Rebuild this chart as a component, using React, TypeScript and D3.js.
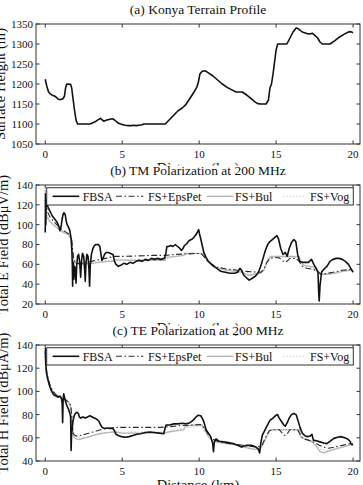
import React from "react";
import * as d3 from "d3";

// ---- data -------------------------------------------------------------
type Pt = [number, number];

// (a) terrain elevation along the path, [km, m]
const terrainProfile: Pt[] = [
  [0, 1212], [0.1, 1195], [0.2, 1182], [0.3, 1176], [0.45, 1172], [0.6, 1170], [0.75, 1166],
  [0.85, 1162], [1.0, 1161], [1.15, 1163], [1.25, 1170], [1.32, 1190], [1.4, 1200], [1.65, 1199],
  [1.72, 1190], [1.8, 1165], [1.9, 1135], [2.0, 1110], [2.1, 1100], [2.5, 1100], [2.9, 1100],
  [3.1, 1103], [3.3, 1107], [3.5, 1112], [3.6, 1114], [3.7, 1110], [3.8, 1107], [4.0, 1110],
  [4.2, 1112], [4.4, 1113], [4.5, 1110], [4.65, 1105], [4.8, 1101], [5.0, 1099], [5.2, 1097],
  [5.4, 1096], [5.6, 1096], [5.75, 1097], [5.9, 1096], [6.1, 1097], [6.3, 1098], [6.4, 1100],
  [7.0, 1100], [7.8, 1100], [8.0, 1108], [8.3, 1120], [8.6, 1132], [8.9, 1140], [9.1, 1147],
  [9.3, 1158], [9.5, 1170], [9.7, 1182], [9.85, 1192], [9.95, 1205], [10.05, 1225], [10.2, 1232],
  [10.4, 1233], [10.6, 1228], [10.9, 1220], [11.2, 1210], [11.5, 1200], [11.8, 1192], [12.1, 1186],
  [12.4, 1180], [12.8, 1180], [13.0, 1175], [13.3, 1166], [13.6, 1156], [13.8, 1151], [14.0, 1150],
  [14.35, 1150], [14.5, 1160], [14.6, 1190], [14.7, 1200], [14.8, 1225], [14.9, 1255], [15.0, 1285],
  [15.1, 1300], [15.7, 1300], [15.9, 1315], [16.1, 1330], [16.3, 1340], [16.45, 1338], [16.7, 1330],
  [17.0, 1326], [17.2, 1325], [17.35, 1327], [17.5, 1322], [17.7, 1315], [17.85, 1305], [18.0, 1300],
  [18.5, 1300], [18.8, 1308], [19.1, 1317], [19.4, 1324], [19.7, 1330], [19.85, 1331], [20.0, 1328],
];

// (b) TM polarization, total E field [km, dBuV/m]
const tmFbsa: Pt[] = [
  [0, 92], [0.02, 131], [0.04, 100], [0.06, 126], [0.1, 121], [0.2, 117], [0.33, 113], [0.45, 109],
  [0.6, 106], [0.75, 103], [0.87, 99], [0.95, 94], [1.0, 96], [1.05, 100], [1.1, 106], [1.17, 111],
  [1.22, 112], [1.3, 110], [1.36, 104], [1.42, 100], [1.5, 98], [1.6, 94], [1.68, 86], [1.73, 74],
  [1.76, 60], [1.78, 38], [1.8, 58], [1.83, 62], [1.86, 45], [1.9, 58], [1.95, 56], [2.0, 41],
  [2.05, 60], [2.1, 68], [2.17, 70], [2.24, 62], [2.3, 47], [2.36, 64], [2.42, 71], [2.5, 68],
  [2.57, 52], [2.6, 43], [2.65, 62], [2.71, 70], [2.78, 68], [2.84, 55], [2.88, 38], [2.93, 60],
  [3.0, 70], [3.1, 76], [3.2, 79], [3.3, 80], [3.45, 80], [3.55, 78], [3.62, 70],
  [3.68, 64], [3.75, 66], [3.85, 70], [3.95, 72], [4.1, 72], [4.25, 71], [4.4, 70], [4.5, 63],
  [4.6, 60], [4.75, 58], [4.9, 59], [5.1, 61], [5.3, 60], [5.5, 62], [5.7, 61], [5.9, 63],
  [6.1, 64], [6.3, 63], [6.5, 65], [6.7, 64], [6.9, 66], [7.1, 65], [7.3, 66], [7.5, 65],
  [7.75, 66], [7.85, 72], [7.9, 78], [8.0, 78], [8.15, 79], [8.3, 78], [8.45, 80], [8.6, 78],
  [8.75, 76], [8.85, 74], [8.95, 76], [9.05, 79], [9.2, 81], [9.35, 84], [9.5, 85], [9.65, 87],
  [9.8, 90], [9.9, 93], [9.97, 95], [10.03, 90], [10.1, 86], [10.2, 79], [10.3, 72], [10.45, 67],
  [10.6, 63], [10.75, 61], [10.95, 58], [11.15, 56], [11.4, 53], [11.7, 52], [12.0, 51], [12.3, 51],
  [12.5, 52], [12.65, 56], [12.75, 54], [12.9, 49], [13.1, 46], [13.25, 44], [13.45, 46], [13.65, 48],
  [13.85, 52], [14.0, 58], [14.15, 66], [14.3, 74], [14.45, 80], [14.6, 83], [14.75, 85], [14.9, 87],
  [15.05, 89], [15.15, 86], [15.3, 76], [15.45, 70], [15.6, 72], [15.72, 68], [15.85, 76], [16.0, 82],
  [16.15, 85], [16.28, 83], [16.4, 70], [16.52, 63], [16.7, 62], [16.9, 62], [17.1, 62], [17.3, 65],
  [17.45, 60], [17.6, 56], [17.72, 52], [17.77, 30], [17.8, 23], [17.85, 38], [17.95, 52], [18.1, 55],
  [18.3, 58], [18.5, 63], [18.7, 65], [18.9, 66], [19.1, 66], [19.3, 65], [19.5, 63], [19.7, 60],
  [19.85, 56], [20.0, 52],
];
const tmEpsPet: Pt[] = [
  [0, 125], [0.05, 120], [0.15, 113], [0.3, 108], [0.5, 104], [0.75, 100], [1.0, 96], [1.3, 93],
  [1.6, 90], [1.72, 85], [1.78, 75], [1.85, 66], [1.95, 62], [2.1, 61], [2.4, 61], [2.7, 62],
  [3.0, 63], [3.3, 64], [3.6, 65], [3.9, 66], [4.2, 67], [4.5, 68], [5.0, 68], [6.0, 68.5],
  [7.0, 69], [7.8, 69], [8.5, 70], [9.2, 70.5], [9.8, 71], [10.1, 71], [10.3, 68], [10.5, 64],
  [10.8, 60], [11.2, 57], [11.7, 55.5], [12.3, 54.5], [12.9, 53], [13.5, 52.5], [14.0, 52], [14.2, 55],
  [14.4, 62], [14.6, 66], [14.9, 67], [15.2, 66.5], [15.4, 64], [15.55, 62], [15.7, 63], [15.9, 66],
  [16.3, 66], [16.5, 63], [16.7, 58], [17.0, 56], [17.4, 55], [17.7, 53], [17.9, 50], [18.2, 50.5],
  [18.7, 52], [19.3, 54], [20.0, 55],
];
const tmBul: Pt[] = [
  [0, 135], [0.03, 112], [0.1, 108], [0.3, 103], [0.6, 99], [0.9, 95], [1.2, 92], [1.5, 90],
  [1.7, 85], [1.77, 72], [1.85, 64], [2.0, 61], [2.2, 60], [2.6, 60.5], [3.0, 61], [3.5, 62],
  [4.0, 63], [4.5, 63], [4.55, 64.5], [5.5, 64], [6.5, 64], [7.5, 64], [7.8, 64], [7.85, 67],
  [8.5, 68], [9.0, 69], [9.05, 71], [9.6, 71], [10.2, 71], [10.4, 67], [10.6, 62], [10.9, 58],
  [11.3, 56], [11.8, 54], [12.4, 53], [12.8, 52], [13.0, 50], [13.3, 49], [13.6, 50], [14.0, 51],
  [14.2, 54], [14.35, 60], [14.5, 66], [14.7, 68], [15.5, 68], [16.0, 68], [16.5, 68], [16.6, 62],
  [16.8, 59], [17.2, 58], [17.5, 57.5], [17.6, 54], [17.9, 50], [18.3, 50], [18.8, 51], [19.3, 53],
  [19.8, 54], [20.0, 54],
];
const tmVog: Pt[] = [
  [0, 120], [0.1, 110], [0.3, 104], [0.6, 100], [1.0, 95], [1.4, 91], [1.7, 86], [1.78, 72],
  [1.88, 63], [2.1, 61], [2.6, 61], [3.2, 62], [3.8, 63.5], [4.5, 64], [5.5, 65], [6.5, 65],
  [7.8, 65.5], [8.5, 68], [9.2, 70], [10.1, 71], [10.4, 67], [10.7, 61], [11.2, 57], [12.0, 54.5],
  [12.8, 52.5], [13.5, 51], [14.0, 51.5], [14.3, 57], [14.6, 66], [15.0, 67], [16.4, 67], [16.6, 61],
  [17.0, 58], [17.6, 55], [17.9, 51], [18.4, 50], [19.0, 52], [19.6, 54], [20.0, 55],
];

// (c) TE polarization, total H field [km, dBuA/m]
const teFbsa: Pt[] = [
  [0, 132], [0.02, 137], [0.04, 123], [0.1, 115], [0.2, 109], [0.3, 104], [0.42, 100], [0.55, 97],
  [0.7, 96], [0.85, 95], [0.95, 96], [1.05, 94], [1.1, 90], [1.13, 73], [1.16, 92], [1.2, 98],
  [1.25, 95], [1.32, 91], [1.4, 88], [1.5, 85], [1.6, 81], [1.65, 78], [1.68, 49], [1.71, 62],
  [1.75, 68], [1.8, 74], [1.88, 79], [1.96, 81], [2.05, 82], [2.15, 81], [2.22, 78], [2.3, 77],
  [2.45, 78], [2.6, 77], [2.75, 78], [2.9, 79], [3.05, 78], [3.2, 77], [3.35, 76], [3.5, 74],
  [3.6, 71], [3.7, 69], [3.85, 68], [4.0, 68.5], [4.2, 68], [4.4, 68], [4.5, 66], [4.6, 63],
  [4.75, 62], [4.95, 61], [5.2, 60.5], [5.45, 61], [5.7, 62], [5.95, 63], [6.2, 63.5], [6.5, 64.5],
  [6.8, 65], [7.1, 64.5], [7.4, 64], [7.7, 63.5], [7.78, 68], [7.85, 71], [8.1, 71], [8.35, 72],
  [8.6, 72], [8.9, 72.5], [9.15, 72], [9.4, 73], [9.6, 75], [9.8, 78], [9.95, 79.5], [10.1, 79],
  [10.2, 77], [10.3, 74], [10.45, 67], [10.6, 64], [10.75, 61], [10.88, 55], [10.93, 48], [10.98, 56],
  [11.1, 59], [11.3, 57], [11.6, 56.5], [11.9, 56], [12.2, 55], [12.5, 53.5], [12.75, 52], [12.9, 53],
  [13.1, 53.5], [13.4, 53.5], [13.7, 52], [13.85, 50], [13.93, 47], [14.0, 55], [14.1, 62], [14.25, 66],
  [14.4, 70], [14.6, 75], [14.8, 77], [15.0, 79.5], [15.1, 80], [15.2, 77], [15.35, 74], [15.5, 71],
  [15.6, 70], [15.72, 73], [15.85, 77], [16.0, 80], [16.15, 81], [16.3, 80], [16.42, 75], [16.55, 69],
  [16.7, 64], [16.85, 62], [17.0, 61], [17.2, 61.5], [17.33, 63], [17.42, 58], [17.6, 57.5], [17.85, 56.5],
  [18.1, 55.5], [18.3, 55], [18.5, 57], [18.75, 59.5], [19.0, 60.5], [19.2, 61], [19.45, 60], [19.65, 59],
  [19.8, 57], [19.9, 54], [20.0, 54],
];
const teEpsPet: Pt[] = [
  [0, 131], [0.03, 124], [0.1, 116], [0.25, 108], [0.45, 101], [0.7, 97], [1.0, 95], [1.3, 93],
  [1.5, 91], [1.65, 88], [1.72, 80], [1.78, 68], [1.85, 63], [2.0, 61.5], [2.3, 62], [2.7, 63.5],
  [3.1, 65], [3.6, 67], [4.2, 68.5], [4.7, 69], [5.5, 69], [6.5, 69], [7.5, 69], [8.0, 69.5],
  [8.8, 70.5], [9.5, 71], [10.1, 71.5], [10.3, 69], [10.5, 65], [10.7, 61], [11.0, 58], [11.5, 56],
  [12.0, 55], [12.6, 54], [13.2, 53], [13.8, 52], [14.1, 54], [14.3, 60], [14.55, 66], [14.8, 67],
  [15.2, 67], [15.4, 64], [15.55, 62], [15.7, 63], [15.9, 67], [16.4, 67], [16.55, 63], [16.75, 59],
  [17.1, 58], [17.5, 56], [17.8, 53.5], [18.1, 52], [18.4, 51], [18.8, 52], [19.3, 53.5], [19.8, 55],
  [20.0, 55],
];
const teBul: Pt[] = [
  [0, 133], [0.03, 118], [0.1, 112], [0.3, 104], [0.6, 98], [1.0, 95], [1.3, 93], [1.55, 90],
  [1.68, 86], [1.75, 70], [1.85, 61], [2.0, 59], [2.2, 58.5], [2.6, 60], [3.0, 61.5], [3.5, 63.5],
  [4.0, 64.5], [4.5, 65], [5.0, 64], [6.0, 64], [7.0, 64], [7.8, 64], [8.0, 65], [8.5, 66],
  [9.0, 67], [9.1, 70], [9.6, 71], [10.2, 71], [10.4, 66], [10.6, 61], [10.8, 58], [11.2, 56],
  [11.8, 55], [12.4, 54], [12.9, 52], [13.2, 51], [13.6, 50], [14.0, 51], [14.25, 57], [14.45, 63],
  [14.65, 67], [15.0, 67], [15.8, 67], [16.5, 67], [16.6, 61], [16.9, 59], [17.3, 57], [17.6, 53],
  [17.85, 48], [18.1, 47], [18.4, 48.5], [18.8, 50], [19.3, 52], [19.8, 54], [20.0, 55],
];
const teVog: Pt[] = [
  [0, 128], [0.05, 116], [0.2, 108], [0.5, 100], [0.9, 96], [1.3, 93], [1.6, 90], [1.72, 78],
  [1.85, 63], [2.1, 60], [2.6, 60.5], [3.2, 62], [3.8, 64], [4.5, 65], [5.5, 65], [6.5, 65],
  [7.8, 65], [8.5, 67], [9.2, 69], [10.1, 70], [10.4, 66], [10.7, 60], [11.2, 56.5], [12.0, 55],
  [12.8, 53], [13.5, 51], [14.0, 52], [14.3, 59], [14.6, 66], [15.0, 66.5], [16.4, 66.5], [16.6, 61],
  [17.0, 58], [17.5, 55], [17.9, 50], [18.3, 49], [18.8, 50.5], [19.4, 52.5], [20.0, 54],
];

const xTicks = [0, 5, 10, 15, 20];
const heightTicks = [1050, 1100, 1150, 1200, 1250, 1300, 1350];
const eFieldTicks = [20, 40, 60, 80, 100, 120, 140];
const hFieldTicks = [40, 60, 80, 100, 120, 140];
const seriesNames = ["FBSA", "FS+EpsPet", "FS+Bul", "FS+Vog"];

// ---- layout -----------------------------------------------------------
const W = 363;
const H = 485;
const LEFT = 36;
const RIGHT = 360;
const FONT = "'Liberation Serif', 'DejaVu Serif', Times, serif";
const TICK = 3.5;

const x = d3.scaleLinear().domain([-0.6, 20.45]).range([LEFT, RIGHT]);

type Style = { stroke: string; width: number; dash?: string };
const styles: Style[] = [
  { stroke: "#111", width: 1.6 },
  { stroke: "#2a2a2a", width: 1.1, dash: "6,2.5,1.5,2.5" },
  { stroke: "#b3b3b3", width: 1.3 },
  { stroke: "#c4c4c4", width: 1.1, dash: "1.3,2" },
];

// legend slots: line start/end and label x, shared by (b) and (c)
const legendSlots = [
  { x1: 52.7, x2: 79.3, tx: 82.7 },
  { x1: 116, x2: 143.3, tx: 148 },
  { x1: 206.7, x2: 233.3, tx: 235 },
  { x1: 283, x2: 306.7, tx: 310 },
];

interface PanelProps {
  id: string;
  title: string;
  ylabel: string;
  top: number;
  bottom: number;
  yDomain: [number, number];
  yTicks: number[];
  series: Pt[][];
  legend: boolean;
  ylabelX: number;
}

function Panel({ id, title, ylabel, top, bottom, yDomain, yTicks, series, legend, ylabelX }: PanelProps) {
  const y = d3.scaleLinear().domain(yDomain).range([bottom, top]);
  const line = d3
    .line<Pt>()
    .x((d) => x(d[0]))
    .y((d) => y(d[1]));
  const midY = (top + bottom) / 2;
  const midX = (LEFT + RIGHT) / 2;
  const tickBase = bottom + 14;

  // draw order: grey references first, black FBSA on top
  const order = series.length === 1 ? [0] : [2, 3, 1, 0];

  return (
    <g>
      <text x={midX} y={top - 10} textAnchor="middle" fontSize={13.5} fontFamily={FONT} fill="#111">
        {title}
      </text>
      <defs>
        <clipPath id={`clip-${id}`}>
          <rect x={LEFT} y={top} width={RIGHT - LEFT} height={bottom - top} />
        </clipPath>
      </defs>
      <g clipPath={`url(#clip-${id})`}>
        {order.map((i) => (
          <path
            key={i}
            d={line(series[i]) ?? ""}
            fill="none"
            stroke={styles[i].stroke}
            strokeWidth={styles[i].width}
            strokeDasharray={styles[i].dash}
            strokeLinejoin="round"
          />
        ))}
      </g>
      {/* box and inward ticks */}
      <rect x={LEFT} y={top} width={RIGHT - LEFT} height={bottom - top} fill="none" stroke="#333" strokeWidth={1} />
      {xTicks.map((t) => (
        <g key={`x${t}`}>
          <line x1={x(t)} x2={x(t)} y1={bottom} y2={bottom - TICK} stroke="#333" />
          <line x1={x(t)} x2={x(t)} y1={top} y2={top + TICK} stroke="#333" />
          <text x={x(t)} y={tickBase} textAnchor="middle" fontSize={11} fontFamily={FONT} fill="#111">
            {t}
          </text>
        </g>
      ))}
      {yTicks.map((t) => (
        <g key={`y${t}`}>
          <line x1={LEFT} x2={LEFT + TICK} y1={y(t)} y2={y(t)} stroke="#333" />
          <line x1={RIGHT} x2={RIGHT - TICK} y1={y(t)} y2={y(t)} stroke="#333" />
          <text x={LEFT - 3} y={y(t)} dy="0.36em" textAnchor="end" fontSize={11} fontFamily={FONT} fill="#111">
            {t}
          </text>
        </g>
      ))}
      <text
        transform={`translate(${ylabelX},${midY}) rotate(-90)`}
        textAnchor="middle"
        fontSize={14.5}
        fontFamily={FONT}
        fill="#111"
      >
        {ylabel}
      </text>
      <text x={midX} y={tickBase + 14.5} textAnchor="middle" fontSize={14.5} fontFamily={FONT} fill="#111">
        Distance (km)
      </text>
      {legend && (
        <g>
          <rect x={46.7} y={top + 2.7} width={353.3 - 46.7} height={17.3} fill="#fff" stroke="#333" strokeWidth={1} />
          {legendSlots.map((s, i) => (
            <g key={seriesNames[i]}>
              <line
                x1={s.x1}
                x2={s.x2}
                y1={top + 11.3}
                y2={top + 11.3}
                stroke={styles[i].stroke}
                strokeWidth={styles[i].width}
                strokeDasharray={styles[i].dash}
              />
              <text x={s.tx} y={top + 15.5} fontSize={12} fontFamily={FONT} fill="#111">
                {seriesNames[i]}
              </text>
            </g>
          ))}
        </g>
      )}
    </g>
  );
}

export default function App() {
  return (
    <svg
      width={W}
      height={H}
      viewBox={`0 0 ${W} ${H}`}
      style={{ position: "absolute", left: 0, top: 0, background: "#fff" }}
    >
      <rect width={W} height={H} fill="#fff" />
      <Panel
        id="a"
        title="(a) Konya Terrain Profile"
        ylabel="Surface Height (m)"
        top={24}
        bottom={144}
        yDomain={[1050, 1350]}
        yTicks={heightTicks}
        series={[terrainProfile]}
        legend={false}
        ylabelX={5}
      />
      {/* each panel's strip hides most of the x label of the one above */}
      <rect x={0} y={165.5} width={W} height={19} fill="#fff" />
      <Panel
        id="b"
        title="(b) TM Polarization at 200 MHz"
        ylabel="Total E Field (dBμV/m)"
        top={185}
        bottom={304}
        yDomain={[20, 140]}
        yTicks={eFieldTicks}
        series={[tmFbsa, tmEpsPet, tmBul, tmVog]}
        legend={true}
        ylabelX={8}
      />
      <rect x={0} y={325.5} width={W} height={8} fill="#fff" />
      <Panel
        id="c"
        title="(c) TE Polarization at 200 MHz"
        ylabel="Total H Field (dBμA/m)"
        top={345}
        bottom={461}
        yDomain={[40, 140]}
        yTicks={hFieldTicks}
        series={[teFbsa, teEpsPet, teBul, teVog]}
        legend={true}
        ylabelX={8}
      />
    </svg>
  );
}
